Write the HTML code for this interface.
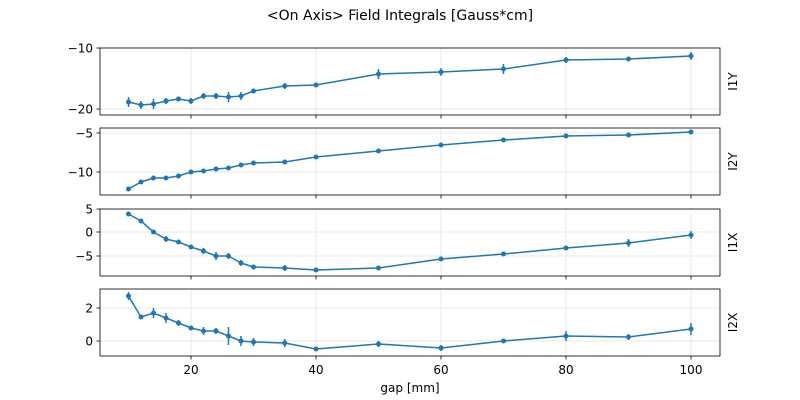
<!DOCTYPE html>
<html><head><meta charset="utf-8"><style>body{margin:0;background:#fff}svg{display:block}</style></head>
<body>
<svg id="s" width="800" height="400" xmlns="http://www.w3.org/2000/svg" font-family="'DejaVu Sans','Liberation Sans',sans-serif"></svg>
<script>
const X=[10,12,14,16,18,20,22,24,26,28,30,35,40,50,60,70,80,90,100];
const xp=v=>128.5+6.25*(v-10);
const panels=[
 {t:48,b:115,lab:'I1Y',ticks:[[-10,48],[-20,109]],
  y:[102,105,104,101,99,101,96,96,97,96,91,86,85,74,72,69,60,59,56],
  e:[5,4,5,3,2,3,3,3,5,4,2,3,2,5,4,5,3,2,4]},
 {t:128,b:195,lab:'I2Y',ticks:[[-5,133],[-10,172]],
  y:[189,182,178,178,176,172,171,169,168,165,163,162,157,151,145,140,136,135,132],
  e:[2,2,2,1,2,2,2,2,2,2,1,1,1,1,1,1,1,1,1]},
 {t:209,b:276,lab:'I1X',ticks:[[5,209],[0,232],[-5,256]],
  y:[214,221,232,239,242,247,251,256,256,263,267,268,270,268,259,254,248,243,235],
  e:[2,2,2,3,2,2,3,4,3,3,2,3,2,2,2,2,2,4,4]},
 {t:289,b:356,lab:'I2X',ticks:[[2,308],[0,341]],
  y:[296,317,313,318,323,328,331,331,336,341,342,343,349,344,348,341,336,337,329],
  e:[4,2,5,5,3,2,4,3,9,5,4,4,2,3,3,2,5,3,6]}
];
let h='<text x="400" y="20" font-size="14" text-anchor="middle">&lt;On Axis&gt; Field Integrals [Gauss*cm]</text>';
const xt=[20,40,60,80,100];
panels.forEach(p=>{
 xt.forEach(v=>h+=`<line x1="${xp(v)}" x2="${xp(v)}" y1="${p.t}" y2="${p.b}" stroke="#b0b0b0" stroke-opacity="0.35" stroke-width="0.8"/>`);
 p.ticks.forEach(([v,y])=>{h+=`<line x1="100" x2="720" y1="${y}" y2="${y}" stroke="#b0b0b0" stroke-opacity="0.35" stroke-width="0.8"/>`;
  h+=`<line x1="96.5" x2="100" y1="${y}" y2="${y}" stroke="#000" stroke-width="0.8"/>`;
  h+=`<text x="93" y="${y+4.5}" font-size="12" text-anchor="end">${v<0?'\u2212'+(-v):v}</text>`;});
 let pts=X.map((v,i)=>xp(v)+','+p.y[i]).join(' ');
 X.forEach((v,i)=>h+=`<line x1="${xp(v)}" x2="${xp(v)}" y1="${p.y[i]-p.e[i]}" y2="${p.y[i]+p.e[i]}" stroke="#1f77b4" stroke-width="1.5"/>`);
 h+=`<polyline points="${pts}" fill="none" stroke="#1f77b4" stroke-width="1.5"/>`;
 X.forEach((v,i)=>h+=`<circle cx="${xp(v)}" cy="${p.y[i]}" r="2.5" fill="#1f77b4"/>`);
 h+=`<rect x="100" y="${p.t}" width="620" height="${p.b-p.t}" fill="none" stroke="#000" stroke-width="0.8"/>`;
 xt.forEach(v=>h+=`<line x1="${xp(v)}" x2="${xp(v)}" y1="${p.b}" y2="${p.b+3.5}" stroke="#000" stroke-width="0.8"/>`);
 const cy=(p.t+p.b)/2;
 h+=`<text x="737" y="${cy}" font-size="12" text-anchor="middle" transform="rotate(-90 737 ${cy})">${p.lab}</text>`;
});
xt.forEach(v=>h+=`<text x="${xp(v)}" y="374" font-size="12" text-anchor="middle">${v}</text>`);
h+='<text x="410" y="392" font-size="12" text-anchor="middle">gap [mm]</text>';
document.getElementById('s').innerHTML=h;
</script>
</body></html>
